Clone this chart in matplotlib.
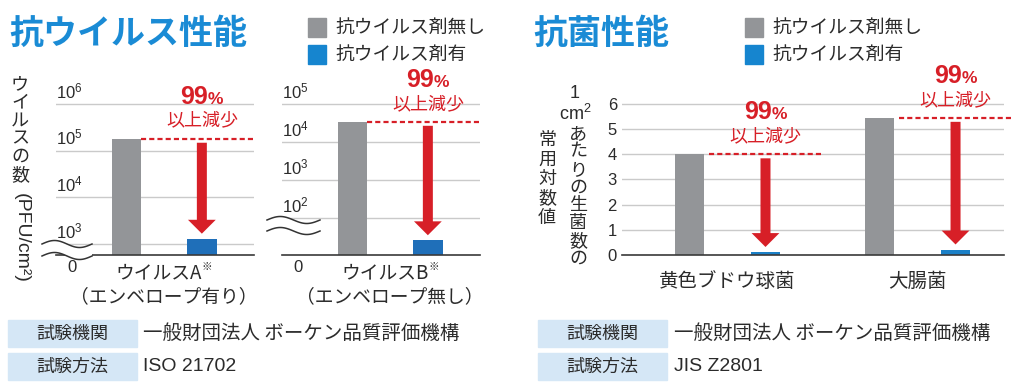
import matplotlib
matplotlib.use("Agg")
import matplotlib.pyplot as plt
from matplotlib.patches import Rectangle, Polygon, FancyArrowPatch
from matplotlib.lines import Line2D
from matplotlib.offsetbox import TextArea, HPacker, AnnotationBbox
import numpy as np

plt.rcParams['font.family'] = ['Noto Sans CJK JP', 'DejaVu Sans']

W, H, DPI = 1018, 391, 100

# ---------------- data ----------------
title_virus = '抗ウイルス性能'
title_bact = '抗菌性能'
series_names = ['抗ウイルス剤無し', '抗ウイルス剤有']

virus_names = ['ウイルスA', 'ウイルスB']
virus_notes = ['（エンベロープ有り）', '（エンベロープ無し）']
virus_without = [1.8e5, 3.4e4]
virus_with = [1.3e3, 2.6e1]
virus_tick_exps = [[3, 4, 5, 6], [2, 3, 4, 5]]
virus_ylabel_upright = 'ウイルスの数'
virus_ylabel_rotated = '(PFU/cm²)'

bact_names = ['黄色ブドウ球菌', '大腸菌']
bact_without = [4.0, 5.45]
bact_with = [0.1, 0.2]
bact_ticks = [0, 1, 2, 3, 4, 5, 6]
bact_ylabel_top = ['1', r'$\mathregular{cm^2}$']
bact_ylabel_col = 'あたりの生菌数の'
bact_ylabel_col2 = '常用対数値'

reduction_num, reduction_pct, reduction_sub = '99', '%', '以上減少'
note_mark = '※'

table_keys = ['試験機関', '試験方法']
virus_table_vals = ['一般財団法人 ボーケン品質評価機構', 'ISO 21702']
bact_table_vals = ['一般財団法人 ボーケン品質評価機構', 'JIS Z2801']

# ---------------- style ----------------
GRAY = '#939598'
BLUE_LEG = '#1685cf'
BLUE_L = '#1f6fb9'
BLUE_R = '#1b80c7'
RED = '#d71f27'
TITLE = '#1a8bd5'
TXT = '#2b2b2b'
GRID = '#cacaca'
BOX = '#d5e7f6'
LATIN = 'Liberation Sans'

fig = plt.figure(figsize=(W / DPI, H / DPI), dpi=DPI)
fig.patch.set_facecolor('white')


def fx(p):
    return np.asarray(p) / W


def fy(p):
    return 1 - np.asarray(p) / H


def pt(p):
    return p * 72 / DPI


def style_axes(ax):
    for s in ['top', 'left', 'right']:
        ax.spines[s].set_visible(False)
    ax.spines['bottom'].set_color('#3a3a3a')
    ax.spines['bottom'].set_linewidth(1.2)
    ax.yaxis.grid(True, color=GRID, lw=1.0)
    ax.set_axisbelow(True)
    ax.set_facecolor('none')


def reduction_marks(ax, xbar, x_from, x_to, top, low, shA, shB):
    ax.plot([x_from, x_to], [top, top], color=RED, lw=1.6, ls=(0, (2.3, 1.4)),
            clip_on=False, zorder=3)
    arr = FancyArrowPatch((xbar, top), (xbar, low),
                          arrowstyle='simple,head_width=1.0,head_length=0.5,tail_width=0.36',
                          mutation_scale=20, color=RED, lw=0, shrinkA=shA, shrinkB=shB,
                          clip_on=False, zorder=4)
    ax.add_patch(arr)
    pack = HPacker(children=[
        TextArea(reduction_num, textprops=dict(fontsize=18, fontweight='bold', color=RED, family=LATIN)),
        TextArea(reduction_pct, textprops=dict(fontsize=12.5, fontweight='bold', color=RED, family=LATIN))],
        align='baseline', pad=0, sep=0)
    ab = AnnotationBbox(pack, (xbar, top), xycoords='data', xybox=(0, pt(42)),
                        boxcoords='offset points', frameon=False, box_alignment=(0.5, 0.5),
                        annotation_clip=False, zorder=5)
    ax.add_artist(ab)
    ax.annotate(reduction_sub, xy=(xbar, top), xytext=(0, pt(18)), textcoords='offset points',
                ha='center', va='center', fontsize=13, color=RED, annotation_clip=False)


# ---------------- virus panels ----------------
panel_specs = [
    (56, 2.764, 6.214, (42, 92, 244, 256)),
    (282, 1.026, 5.263, (267, 320, 220, 231)),
]
for i, (left, lo, hi, wave) in enumerate(panel_specs):
    ax = fig.add_axes([fx(left), fy(255), 198 / W, 161 / H])
    ax.set_yscale('log')
    ax.set_ylim(10 ** lo, 10 ** hi)
    ax.set_xlim(-0.93, 1.69)
    base = 10 ** lo
    ax.bar([0], [virus_without[i] - base], bottom=base, width=0.39, color=GRAY, zorder=2)
    ax.bar([1], [virus_with[i] - base], bottom=base, width=0.39, color=BLUE_L, zorder=2)
    ticks = [10.0 ** e for e in virus_tick_exps[i]]
    ax.set_yticks(ticks)
    ax.minorticks_off()
    ax.set_xticks([])
    ax.tick_params(left=False, labelleft=False, bottom=False, labelbottom=False)
    style_axes(ax)
    for e, t in zip(virus_tick_exps[i], ticks):
        ax.annotate(r'$\mathregular{10^{%d}}$' % e, xy=(0, t), xycoords=('axes fraction', 'data'),
                    xytext=(0, pt(13)), textcoords='offset points', ha='left', va='center',
                    fontsize=12, family=LATIN, color=TXT)
    ax.annotate('0', xy=(0, 0), xycoords='axes fraction', xytext=(pt(16), -pt(12)),
                textcoords='offset points', ha='center', va='center', fontsize=12,
                family=LATIN, color=TXT, annotation_clip=False)
    pack = HPacker(children=[
        TextArea(virus_names[i], textprops=dict(fontsize=13.5, color=TXT)),
        TextArea(note_mark, textprops=dict(fontsize=7.5, color=TXT))],
        align='top', pad=0, sep=0)
    ax.add_artist(AnnotationBbox(pack, (0.5, 0), xycoords=('data', 'axes fraction'),
                                 xybox=(0, -pt(18)), boxcoords='offset points', frameon=False,
                                 box_alignment=(0.5, 0.5), annotation_clip=False))
    ax.annotate(virus_notes[i], xy=(0.5, 0), xycoords=('data', 'axes fraction'),
                xytext=(0, -pt(42)), textcoords='offset points', ha='center', va='center',
                fontsize=13.5, color=TXT, annotation_clip=False)
    reduction_marks(ax, 1, 0.195, ax.get_xlim()[1], virus_without[i], virus_with[i], pt(4), pt(5))

    # axis break waves
    x0, x1, yu, yl = wave
    xs = np.linspace(x0, x1, 80)
    ph = np.sin(2 * np.pi * (xs - x0) / (x1 - x0))
    up = yu - 3.5 * ph
    dn = yl - 3.5 * ph
    poly = Polygon(np.column_stack([fx(np.r_[xs, xs[::-1]]), fy(np.r_[up, dn[::-1]])]),
                   closed=True, transform=fig.transFigure, facecolor='white',
                   edgecolor='none', zorder=1.5)
    fig.add_artist(poly)
    for yy in (up, dn):
        fig.add_artist(Line2D(fx(xs), fy(yy), transform=fig.transFigure, color='#333333',
                              lw=1.1, zorder=1.6))

# ---------------- bacteria panel ----------------
axr = fig.add_axes([fx(622), fy(255), 382 / W, 161 / H])
axr.set_ylim(0, 6.397)
axr.set_xlim(-0.555, 1.455)
xg = np.arange(len(bact_names))
axr.bar(xg - 0.2, bact_without, 0.153, color=GRAY, zorder=2)
axr.bar(xg + 0.2, bact_with, 0.153, color=BLUE_R, zorder=2)
axr.set_yticks(bact_ticks)
axr.set_yticklabels([str(t) for t in bact_ticks], fontsize=12, family=LATIN, color=TXT)
axr.tick_params(axis='y', length=0, pad=pt(5))
axr.set_xticks(xg)
axr.set_xticklabels(bact_names, fontsize=14, color=TXT)
axr.tick_params(axis='x', length=0, pad=11.5)
style_axes(axr)
for i in range(len(bact_names)):
    reduction_marks(axr, xg[i] + 0.2, xg[i] - 0.2 + 0.0765 + 0.025, xg[i] + 0.5,
                    bact_without[i], bact_with[i], pt(4), pt(5.5))

# ---------------- titles & legends ----------------
fig.text(fx(9), fy(33), title_virus, fontsize=24.5, fontweight='bold', color=TITLE,
         ha='left', va='center')
fig.text(fx(533), fy(33), title_bact, fontsize=24.5, fontweight='bold', color=TITLE,
         ha='left', va='center')
for sx, tx in [(308, 335), (745, 772)]:
    for j, (name, col) in enumerate(zip(series_names, [GRAY, BLUE_LEG])):
        y0 = 18 + j * 27
        fig.add_artist(Rectangle((fx(sx), fy(y0 + 19)), 18 / W, 19 / H,
                                 transform=fig.transFigure, color=col))
        fig.text(fx(tx), fy(y0 + 9.5), name, fontsize=13.5, color=TXT, ha='left', va='center')

# ---------------- y labels ----------------
for k, ch in enumerate(virus_ylabel_upright):
    fig.text(fx(20), fy(84 + k * 18.2), ch, fontsize=13, color=TXT, ha='center', va='center')
fig.text(fx(21), fy(238), virus_ylabel_rotated, fontsize=14, family=LATIN, color=TXT,
         rotation=-90, ha='center', va='center')

fig.text(fx(575), fy(94), bact_ylabel_top[0], fontsize=13, family=LATIN, color=TXT,
         ha='center', va='center')
fig.text(fx(575), fy(114), bact_ylabel_top[1], fontsize=13, family=LATIN, color=TXT,
         ha='center', va='center')
for k, ch in enumerate(bact_ylabel_col):
    fig.text(fx(578), fy(134 + k * 17.8), ch, fontsize=13, color=TXT, ha='center', va='center')
for k, ch in enumerate(bact_ylabel_col2):
    fig.text(fx(547), fy(140 + k * 19.5), ch, fontsize=13, color=TXT, ha='center', va='center')

# ---------------- test info table ----------------
for bx, tx, vals in [(8, 143, virus_table_vals), (538, 674, bact_table_vals)]:
    for r, (key, val) in enumerate(zip(table_keys, vals)):
        y0 = 320 + r * 33
        fig.add_artist(Rectangle((fx(bx), fy(y0 + 27)), 129 / W, 27 / H,
                                 transform=fig.transFigure, color=BOX))
        fig.text(fx(bx + 64.5), fy(y0 + 13.5), key, fontsize=13, color=TXT,
                 ha='center', va='center')
        kw = dict(family=LATIN) if val.isascii() else {}
        fig.text(fx(tx), fy(y0 + 13.5), val, fontsize=14, color=TXT, ha='left',
                 va='center', **kw)

fig.savefig('out.png', dpi=DPI)
